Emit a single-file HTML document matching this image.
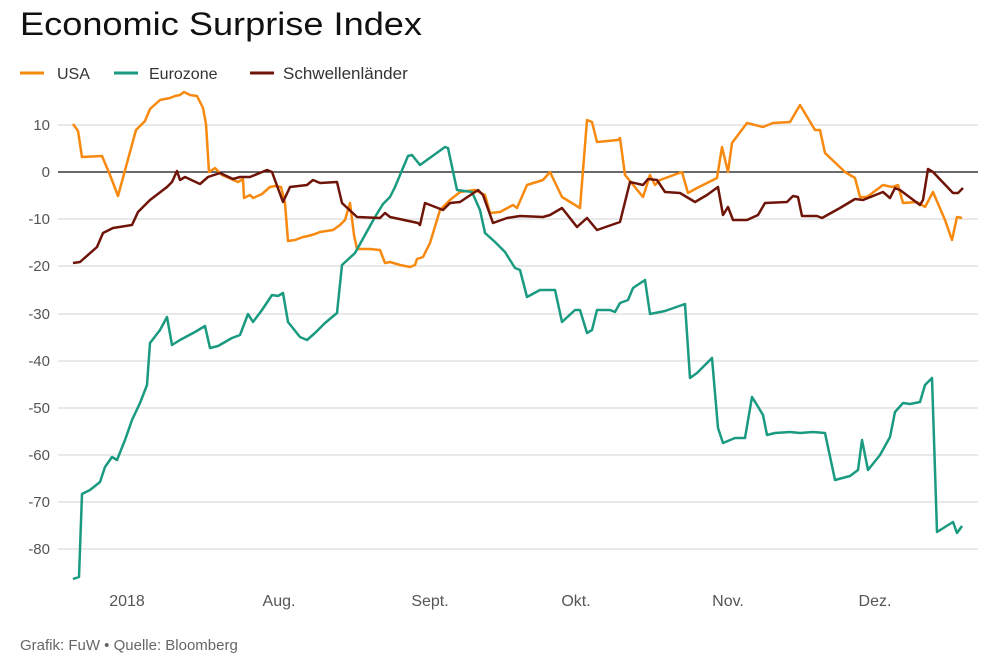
<!DOCTYPE html>
<html><head><meta charset="utf-8"><style>
body{margin:0;background:#fff;width:1000px;height:663px;overflow:hidden;font-family:"Liberation Sans",sans-serif}
</style></head><body>
<svg width="1000" height="663" xmlns="http://www.w3.org/2000/svg" font-family="Liberation Sans, sans-serif">
<text x="20" y="35" font-size="32" fill="#111" textLength="402" lengthAdjust="spacingAndGlyphs">Economic Surprise Index</text>
<g font-size="16" fill="#333">
<line x1="20" y1="73" x2="44" y2="73" stroke="#f7890f" stroke-width="3"/><text x="57" y="79">USA</text>
<line x1="114" y1="73" x2="138" y2="73" stroke="#1a9a80" stroke-width="3"/><text x="149" y="79">Eurozone</text>
<line x1="250" y1="73" x2="274" y2="73" stroke="#6e1408" stroke-width="3"/><text x="283" y="79" font-size="17">Schwellenländer</text>
</g>
<g stroke="#e2e2e2" stroke-width="1.5">
<line x1="58" y1="125" x2="978" y2="125"/><line x1="58" y1="219" x2="978" y2="219"/><line x1="58" y1="266" x2="978" y2="266"/><line x1="58" y1="314" x2="978" y2="314"/><line x1="58" y1="361" x2="978" y2="361"/><line x1="58" y1="408" x2="978" y2="408"/><line x1="58" y1="455" x2="978" y2="455"/><line x1="58" y1="502" x2="978" y2="502"/><line x1="58" y1="549" x2="978" y2="549"/>
</g>
<line x1="58" y1="172" x2="978" y2="172" stroke="#111" stroke-width="1.3"/>
<g font-size="15" fill="#555" text-anchor="end">
<text x="50" y="130">10</text><text x="50" y="177">0</text><text x="50" y="224">-10</text><text x="50" y="271">-20</text><text x="50" y="319">-30</text><text x="50" y="366">-40</text><text x="50" y="413">-50</text><text x="50" y="460">-60</text><text x="50" y="507">-70</text><text x="50" y="554">-80</text>
</g>
<g font-size="16" fill="#555" text-anchor="middle">
<text x="127" y="606">2018</text><text x="279" y="606">Aug.</text><text x="430" y="606">Sept.</text><text x="576" y="606">Okt.</text><text x="728" y="606">Nov.</text><text x="875" y="606">Dez.</text>
</g>
<text x="20" y="650" font-size="15" fill="#666">Grafik: FuW • Quelle: Bloomberg</text>
<g fill="none" stroke-width="2.5" stroke-linejoin="round">
<polyline stroke="#f7890f" points="73,124 78,131 82,157 102,156 110,175 118,196 136,130 145,121 150,109 160,100 170,98 175,96 180,95 184,92 190,95 197,96 203,108 206,124 209,172 215,168 222,175 238,182 243,179 244,198 250,195 253,198 262,194 270,187 275,186 281,187 285,203 288,241 295,240 303,237 308,236 315,234 320,232 333,230 340,225 345,220 350,203 354,235 357,249 370,249 380,250 385,263 390,262 400,265 410,267 415,265 417,259 423,257 430,243 440,210 450,200 460,192 475,190 485,195 490,213 500,212 513,205 517,208 527,185 543,180 550,172 562,197 580,208 587,120 592,122 597,142 618,140 620,138 625,175 643,197 650,175 655,185 660,180 682,172 688,193 697,188 717,178 722,147 728,172 732,143 747,123 763,127 773,123 790,122 800,105 815,130 820,130 825,153 845,172 855,178 860,197 867,197 883,185 892,187 898,185 903,203 917,202 925,207 933,192 945,220 952,240 957,217 962,218"/>
<polyline stroke="#1a9a80" points="73,579 79,577 82,494 90,490 100,482 105,467 112,457 117,460 125,440 132,420 140,403 147,385 150,343 160,330 167,317 172,345 180,340 195,332 205,326 210,348 218,346 225,342 232,338 240,335 248,314 253,322 262,310 272,295 278,296 283,293 288,322 300,337 307,340 315,333 325,323 337,313 342,265 355,253 365,235 375,217 383,204 390,197 395,187 408,156 412,155 420,165 445,147 448,148 457,190 472,192 480,210 485,233 495,242 505,252 515,268 520,270 527,297 540,290 547,290 555,290 562,322 575,310 580,310 587,333 592,330 597,310 610,310 615,312 620,303 628,300 633,288 645,280 650,314 665,311 685,304 690,378 697,373 712,358 718,428 723,443 735,438 745,438 752,397 757,405 763,415 767,435 775,433 790,432 800,433 813,432 825,433 835,480 850,476 858,470 862,440 868,470 880,455 890,437 895,412 903,403 910,404 920,402 925,385 932,378 937,532 953,522 957,533 962,526"/>
<polyline stroke="#6e1408" points="73,263 80,262 97,247 103,233 113,228 132,225 138,212 150,200 167,187 172,182 177,171 180,180 185,177 200,184 208,177 220,173 233,179 240,177 250,177 267,170 272,172 283,202 290,187 307,185 313,180 320,183 337,182 342,203 357,217 380,218 385,213 390,217 418,223 420,225 425,203 443,210 450,203 460,202 478,190 483,195 493,223 507,218 520,216 543,217 550,215 562,208 577,227 587,218 597,230 620,222 630,182 643,185 648,179 657,180 665,192 680,193 695,202 707,195 718,187 723,215 728,207 733,220 747,220 758,215 765,203 787,202 793,196 798,197 802,216 817,216 822,218 840,208 855,199 863,200 883,192 890,198 895,188 900,190 920,205 923,200 928,169 933,172 953,193 958,193 963,188"/>
</g>
</svg>
</body></html>
